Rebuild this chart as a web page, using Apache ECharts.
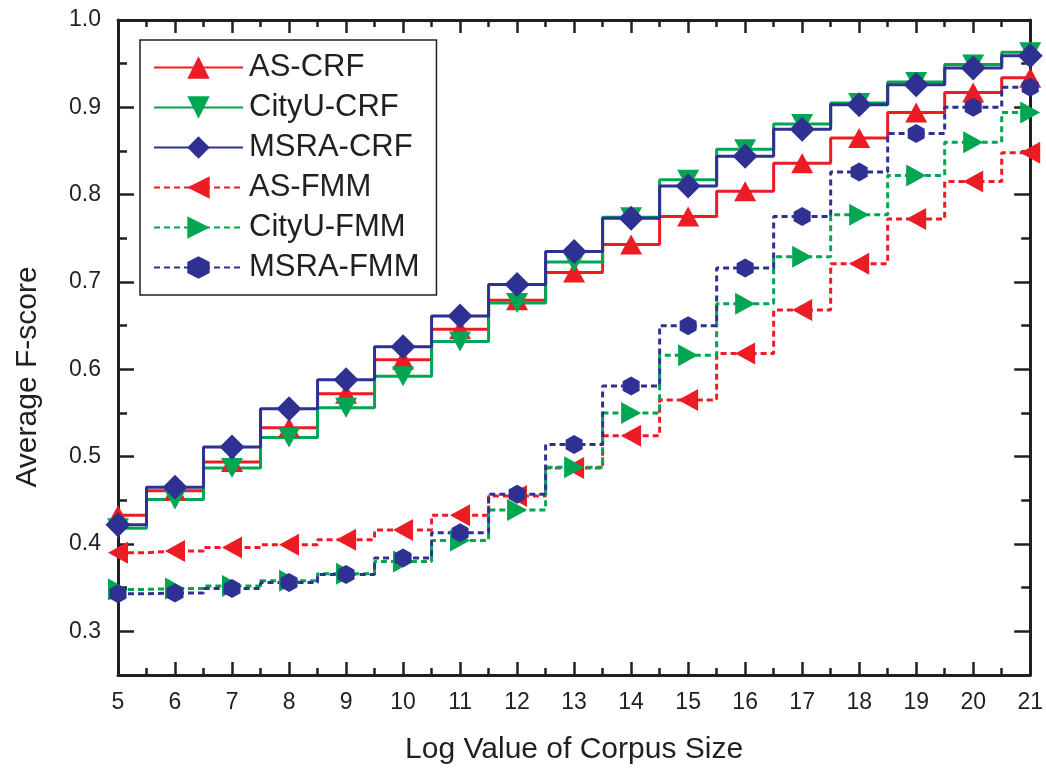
<!DOCTYPE html>
<html>
<head>
<meta charset="utf-8">
<script src="https://cdn.jsdelivr.net/npm/echarts@6/dist/echarts.min.js"></script>
<style>
  html, body { margin: 0; padding: 0; background: #fff; }
  #main { width: 1046px; height: 771px; }
</style>
</head>
<body>
<div id="main"></div>
<script>
// log value of corpus size
var xs = [5, 6, 7, 8, 9, 10, 11, 12, 13, 14, 15, 16, 17, 18, 19, 20, 21]

var asCrf    = [0.433, 0.461, 0.494, 0.533, 0.572, 0.611, 0.646, 0.679, 0.711, 0.743, 0.775, 0.804, 0.836, 0.865, 0.894, 0.917, 0.934]
var cityuCrf = [0.418, 0.451, 0.487, 0.522, 0.556, 0.592, 0.632, 0.676, 0.723, 0.774, 0.817, 0.852, 0.881, 0.905, 0.929, 0.949, 0.963]
var msraCrf  = [0.422, 0.465, 0.511, 0.555, 0.588, 0.626, 0.661, 0.697, 0.735, 0.773, 0.810, 0.844, 0.875, 0.903, 0.926, 0.945, 0.959]
var asFmm    = [0.390, 0.392, 0.396, 0.399, 0.405, 0.416, 0.433, 0.455, 0.487, 0.524, 0.565, 0.618, 0.668, 0.721, 0.772, 0.815, 0.848]
var cityuFmm = [0.348, 0.349, 0.352, 0.358, 0.366, 0.380, 0.404, 0.439, 0.488, 0.550, 0.616, 0.675, 0.729, 0.777, 0.822, 0.860, 0.894]
var msraFmm  = [0.343, 0.344, 0.349, 0.356, 0.365, 0.384, 0.413, 0.457, 0.514, 0.581, 0.650, 0.716, 0.775, 0.826, 0.870, 0.900, 0.923]

var yMajorTicks = [0.3, 0.4, 0.5, 0.6, 0.7, 0.8, 0.9, 1.0]
var yMinorTicks = [0.35, 0.45, 0.55, 0.65, 0.75, 0.85, 0.95]

var RED = '#ED1C24', GREEN = '#00A651', BLUE = '#2E3192', INK = '#231F20'
var FONT = 'Liberation Sans, Arial, sans-serif'
var HEX = 'path://M0,-1L0.866,-0.5L0.866,0.5L0,1L-0.866,0.5L-0.866,-0.5Z'

function pairs(ys) {
  return xs.map(function (x, i) { return [x, ys[i]] })
}

function mk(name, ys, color, dashed, symbol, size, rot) {
  return {
    name: name,
    type: 'line',
    step: 'middle',
    data: pairs(ys),
    clip: false,
    symbol: symbol,
    symbolSize: size,
    symbolRotate: rot,
    showAllSymbol: true,
    lineStyle: { color: color, width: 3, type: dashed ? [6, 4] : 'solid' },
    itemStyle: { color: color },
    emphasis: { disabled: true }
  }
}

function xAx(pos, labels) {
  return {
    type: 'value', position: pos, min: 5, max: 21, interval: 1,
    axisLine: { show: true, onZero: false, lineStyle: { color: INK, width: 3 } },
    axisTick: { show: true, inside: true, length: 13, lineStyle: { color: INK, width: 2.5 } },
    minorTick: { show: true, splitNumber: 2, length: 7, lineStyle: { color: INK, width: 2.5 } },
    axisLabel: { show: labels, fontSize: 23, fontFamily: FONT, color: INK, margin: 16 },
    splitLine: { show: false },
    name: labels ? 'Log Value of Corpus Size' : '',
    nameLocation: 'middle', nameGap: 60,
    nameTextStyle: { fontSize: 30, fontFamily: FONT, color: INK }
  }
}

function yAx(pos, ticks, len, labels, line) {
  return {
    type: 'value', position: pos, min: 0.25, max: 1.0,
    axisLine: { show: line, onZero: false, lineStyle: { color: INK, width: 3 } },
    axisTick: { show: true, inside: true, length: len, customValues: ticks, lineStyle: { color: INK, width: 2.5 } },
    axisLabel: {
      show: labels, customValues: ticks, fontSize: 23, fontFamily: FONT, color: INK, margin: 17,
      formatter: function (v) { return v.toFixed(1) }
    },
    splitLine: { show: false }
  }
}

var chart = echarts.init(document.getElementById('main'), null, { renderer: 'canvas' })

chart.setOption({
  animation: false,
  backgroundColor: '#fff',
  grid: { left: 118, right: 13, top: 20, bottom: 96, containLabel: false },
  xAxis: [xAx('bottom', true), xAx('top', false)],
  yAxis: [
    yAx('left', yMajorTicks, 16, true, true),
    yAx('left', yMinorTicks, 9, false, false),
    yAx('right', yMajorTicks, 16, false, true),
    yAx('right', yMinorTicks, 9, false, false)
  ],
  legend: {
    left: 140, top: 40, orient: 'vertical',
    itemWidth: 89, itemHeight: 28, itemGap: 9,
    padding: [12, 17, 12, 13],
    borderColor: INK, borderWidth: 1.5, backgroundColor: '#fff',
    textStyle: { fontSize: 31, fontFamily: FONT, color: INK, lineHeight: 31, padding: [0, 0, 0, 1] },
    selectedMode: false,
    data: ['AS-CRF', 'CityU-CRF', 'MSRA-CRF', 'AS-FMM', 'CityU-FMM', 'MSRA-FMM']
  },
  graphic: [{
    type: 'text', x: 28, y: 377, rotation: Math.PI / 2,
    style: { text: 'Average F-score', font: '30px ' + FONT, fill: INK, textAlign: 'center', textVerticalAlign: 'middle' }
  }],
  series: [
    mk('AS-CRF', asCrf, RED, false, 'triangle', [22, 20], 0),
    mk('CityU-CRF', cityuCrf, GREEN, false, 'triangle', [22, 20], 180),
    mk('MSRA-CRF', msraCrf, BLUE, false, 'diamond', [25, 25], 0),
    mk('AS-FMM', asFmm, RED, true, 'triangle', [22, 20], 90),
    mk('CityU-FMM', cityuFmm, GREEN, true, 'triangle', [22, 20], -90),
    mk('MSRA-FMM', msraFmm, BLUE, true, HEX, [17, 19], 0)
  ]
})
</script>
</body>
</html>
